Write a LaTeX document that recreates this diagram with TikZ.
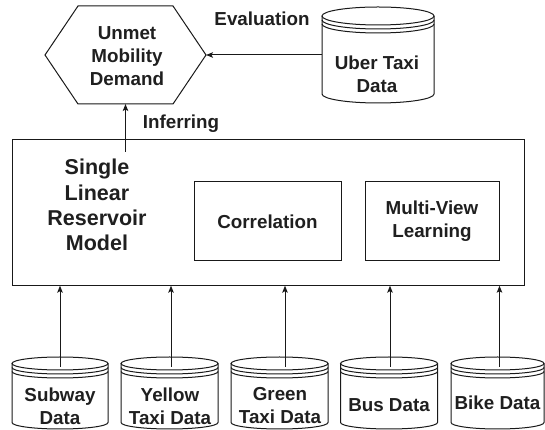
\documentclass[tikz,border=0pt]{standalone}
\usepackage{fontspec}
\setmainfont{Liberation Sans}
\usetikzlibrary{arrows.meta}
\newcommand\drawstore[3]{%
  \draw[ln] ([yshift=-#3]#1.north west) -- ([yshift=#3]#1.south west)
    arc[start angle=180,end angle=360,x radius=#2,y radius=#3]
    -- ([yshift=-#3]#1.north east);
  \draw[ln] ([yshift=-#3]#1.north) ellipse[x radius=#2,y radius=#3];
  \draw[ln] ([yshift=-#3-4pt]#1.north west) arc[start angle=180,end angle=360,x radius=#2,y radius=#3];
  \draw[ln] ([yshift=-#3-8pt]#1.north west) arc[start angle=180,end angle=360,x radius=#2,y radius=#3];
}
\begin{document}
\begin{tikzpicture}[x=1pt,y=1pt,
  ln/.style={draw=black!90, line width=1pt},
  arr/.style={ln, -{Stealth[length=7pt,width=5.5pt,inset=1.5pt]}},
  txt/.style={font=\bfseries\fontsize{18.8}{23}\selectfont, align=center, text=black!88, inner sep=0pt},
  bx/.style={ln, inner sep=0pt, outer sep=0pt, font=\bfseries\fontsize{18.8}{23}\selectfont, align=center, text=black!88},
  store/.style={inner sep=0pt, outer sep=0pt, minimum width=#1, minimum height=72pt},
]
\useasboundingbox (0,0) rectangle (545,430);

% hexagon
\node[inner sep=0pt, outer sep=0pt, minimum width=161pt, minimum height=98pt] (hex) at (125.5,375) {};
\draw[ln] (hex.west) -- ([xshift=33pt]hex.north west) -- ([xshift=-33pt]hex.north east)
  -- (hex.east) -- ([xshift=-33pt]hex.south east) -- ([xshift=33pt]hex.south west) -- cycle;
\node[txt] (hexT) at (127,374) {Unmet\\Mobility\\Demand};

% uber
\node[inner sep=0pt, outer sep=0pt, minimum width=112pt, minimum height=96pt] (uber) at (378,375) {};
\drawstore{uber}{56pt}{9pt}
\node[txt] (uberT) at (377,356) {Uber Taxi\\Data};
\node[txt] (evalT) at (262,411) {Evaluation};
\draw[arr] (uber.west) -- (hex.east);

% big box
\node[bx, minimum width=512pt, minimum height=146.2pt] (model) at (268,217.4) {};
\node[txt, font=\bfseries\fontsize{21.5}{25.3}\selectfont] (slr) at (97,225) {Single\\Linear\\Reservoir\\Model};
\node[bx, minimum width=147pt, minimum height=79pt] (corr) at (267.5,208.5) {Correlation};
\node[bx, minimum width=134pt, minimum height=79pt] (mvl) at (432,208.5) {Multi-View\\Learning};
\coordinate (infstart) at (125.5,278);
\draw[arr] (infstart) -- (hex.south);
\node[txt] (infT) at (181,306) {Inferring};

% data stores
\node[store=96pt] (subway) at (60,37) {};
\node[store=97pt] (yellow) at (169.5,37) {};
\node[store=97pt] (green) at (279.5,37) {};
\node[store=97pt] (bus) at (389,37) {};
\node[store=93pt] (bike) at (497.5,37) {};
\drawstore{subway}{48pt}{6.5pt}
\drawstore{yellow}{48.5pt}{6.5pt}
\drawstore{green}{48.5pt}{6.5pt}
\drawstore{bus}{48.5pt}{6.5pt}
\drawstore{bike}{46.5pt}{6.5pt}
\node[txt] (subwayT) at (60,24) {Subway\\Data};
\node[txt] (yellowT) at (170,24) {Yellow\\Taxi Data};
\node[txt] (greenT) at (280,24) {Green\\Taxi Data};
\node[txt] (busT) at (389,25) {Bus Data};
\node[txt] (bikeT) at (497.5,27) {Bike Data};

\draw[arr] ([yshift=-10pt]subway.north) -- (subway.north |- model.south);
\draw[arr] ([xshift=1.5pt,yshift=-10pt]yellow.north) -- ([xshift=1.5pt]yellow.north |- model.south);
\draw[arr] ([xshift=5.5pt,yshift=-10pt]green.north) -- ([xshift=5.5pt]green.north |- model.south);
\draw[arr] ([xshift=1pt,yshift=-10pt]bus.north) -- ([xshift=1pt]bus.north |- model.south);
\draw[arr] ([xshift=2pt,yshift=-10pt]bike.north) -- ([xshift=2pt]bike.north |- model.south);
\end{tikzpicture}
\end{document}
